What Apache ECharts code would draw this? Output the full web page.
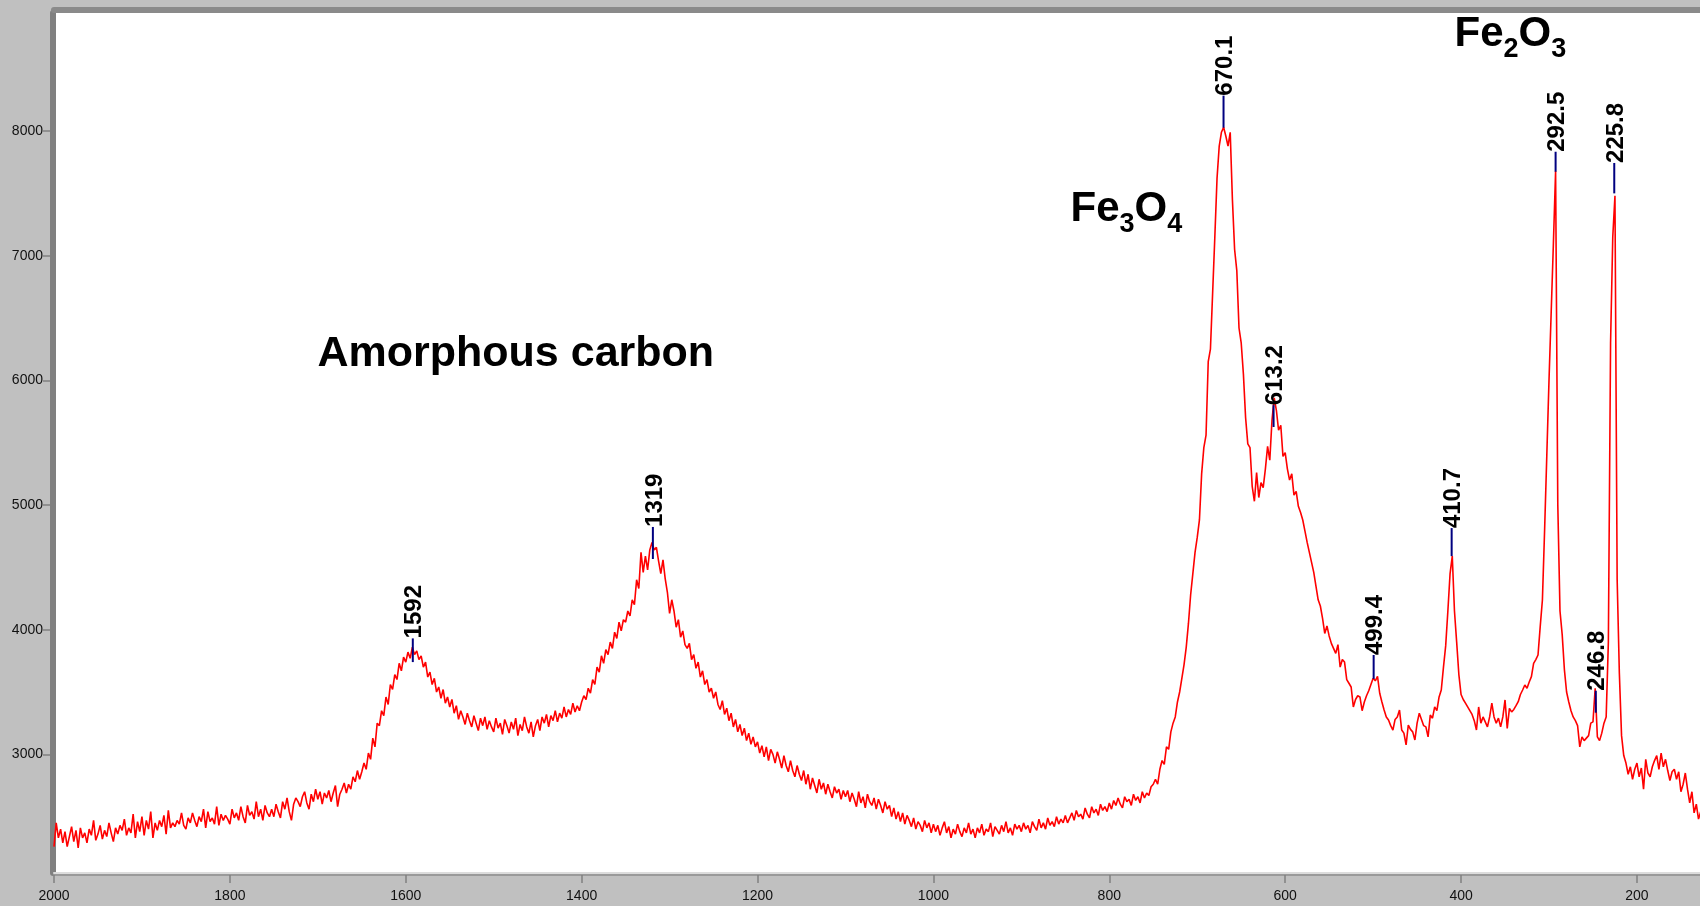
<!DOCTYPE html>
<html>
<head>
<meta charset="utf-8">
<script src="https://cdn.jsdelivr.net/npm/echarts@6/dist/echarts.min.js"></script>
<style>
html, body { margin: 0; padding: 0; background: #c0c0c0; }
#chart { width: 1700px; height: 906px; }
</style>
</head>
<body>
<div id="chart"></div>
<script>
// Raman shift sampling (cm-1): first point and spacing of the intensity array
const shiftStart = 2000;
const shiftStep = 2.5;

// Measured intensity (counts), one value per sample, 2000 -> 127.5 cm-1
const intensity = [
  // 2000 - 1952.5
  2260, 2450, 2330, 2400, 2290, 2380, 2260, 2340, 2420, 2300, 2390, 2250, 2410, 2330, 2370, 2290, 2400, 2350, 2470, 2310,
  // 1950 - 1902.5
  2360, 2430, 2320, 2390, 2340, 2450, 2370, 2300, 2410, 2360, 2430, 2390, 2480, 2350, 2410, 2370, 2520, 2330, 2460, 2380,
  // 1900 - 1852.5
  2500, 2350, 2470, 2400, 2540, 2330, 2450, 2390, 2470, 2420, 2510, 2360, 2550, 2410, 2450, 2420, 2470, 2440, 2530, 2430,
  // 1850 - 1802.5
  2400, 2490, 2450, 2530, 2470, 2420, 2500, 2460, 2560, 2410, 2540, 2460, 2490, 2440, 2580, 2430, 2520, 2470, 2510, 2480,
  // 1800 - 1752.5
  2440, 2560, 2490, 2530, 2470, 2580, 2500, 2450, 2590, 2510, 2540, 2480, 2620, 2500, 2560, 2470, 2590, 2530, 2500, 2560,
  // 1750 - 1702.5
  2500, 2600, 2540, 2490, 2620, 2560, 2650, 2540, 2470, 2600, 2650, 2620, 2580, 2660, 2700, 2610, 2560, 2680, 2620, 2720,
  // 1700 - 1652.5
  2640, 2700, 2600, 2690, 2650, 2710, 2620, 2690, 2750, 2580, 2680, 2720, 2770, 2690, 2760, 2720, 2820, 2780, 2870, 2800,
  // 1650 - 1602.5
  2860, 2930, 2880, 3010, 2960, 3130, 3060, 3250, 3230, 3350, 3310, 3460, 3400, 3560, 3520, 3640, 3600, 3730, 3670, 3780,
  // 1600 - 1552.5
  3740, 3820, 3770, 3860, 3800, 3830, 3760, 3790, 3700, 3740, 3620, 3660, 3560, 3610, 3500, 3540, 3450, 3520, 3410, 3460,
  // 1550 - 1502.5
  3380, 3440, 3330, 3390, 3280, 3350, 3300, 3240, 3330, 3270, 3220, 3310, 3250, 3190, 3290, 3230, 3300, 3200, 3270, 3220,
  // 1500 - 1452.5
  3180, 3290, 3210, 3250, 3160, 3280, 3230, 3170, 3260, 3200, 3290, 3150, 3240, 3190, 3300, 3220, 3170, 3260, 3140, 3230,
  // 1450 - 1402.5
  3280, 3190, 3300, 3250, 3320, 3220, 3310, 3270, 3350, 3260, 3330, 3290, 3380, 3300, 3360, 3320, 3410, 3340, 3390, 3350,
  // 1400 - 1352.5
  3420, 3470, 3440, 3530, 3490, 3600, 3560, 3700, 3660, 3790, 3730, 3840, 3800, 3900, 3850, 3980, 3930, 4060, 3990, 4080,
  // 1350 - 1302.5
  4060, 4150, 4110, 4240, 4200, 4400, 4330, 4620, 4460, 4590, 4480, 4640, 4700, 4640, 4660, 4550, 4450, 4560, 4410, 4300,
  // 1300 - 1252.5
  4130, 4240, 4150, 4020, 4080, 3940, 3990, 3880, 3850, 3890, 3760, 3800, 3690, 3740, 3620, 3670, 3560, 3600, 3500, 3530,
  // 1250 - 1202.5
  3450, 3500, 3400, 3360, 3430, 3320, 3370, 3270, 3330, 3220, 3280, 3180, 3240, 3150, 3210, 3110, 3170, 3080, 3140, 3060,
  // 1200 - 1152.5
  3100, 3010, 3070, 2980, 3060, 2950, 3040, 3000, 2930, 3020, 2960, 2890, 2990, 2910, 2860, 2950, 2870, 2820, 2910, 2840,
  // 1150 - 1102.5
  2790, 2870, 2760, 2840, 2720, 2810, 2750, 2690, 2800, 2720, 2770, 2680, 2760, 2700, 2650, 2740, 2690, 2720, 2640, 2710,
  // 1100 - 1052.5
  2660, 2710, 2620, 2690, 2640, 2580, 2700, 2610, 2660, 2570, 2680, 2620, 2590, 2650, 2560, 2640, 2590, 2530, 2620, 2560,
  // 1050 - 1002.5
  2590, 2500, 2570, 2480, 2540, 2460, 2530, 2440, 2510, 2470, 2420, 2490, 2400, 2460, 2430, 2380, 2470, 2410, 2450, 2370,
  // 1000 - 952.5
  2440, 2380, 2430, 2350, 2410, 2460, 2370, 2420, 2330, 2400, 2360, 2440, 2380, 2340, 2410, 2370, 2450, 2360, 2400, 2330,
  // 950 - 902.5
  2410, 2370, 2440, 2350, 2400, 2380, 2450, 2340, 2420, 2390, 2360, 2430, 2380, 2460, 2370, 2410, 2350, 2440, 2400, 2430,
  // 900 - 852.5
  2380, 2450, 2400, 2430, 2370, 2460, 2420, 2390, 2480, 2410, 2450, 2400, 2490, 2430, 2460, 2420, 2500, 2440, 2480, 2450,
  // 850 - 802.5
  2510, 2450, 2490, 2530, 2470, 2550, 2500, 2520, 2480, 2570, 2520, 2490, 2580, 2530, 2560, 2510, 2600, 2550, 2580, 2540,
  // 800 - 752.5
  2610, 2560, 2630, 2590, 2650, 2600, 2570, 2660, 2620, 2640, 2590, 2680, 2630, 2660, 2610, 2700, 2650, 2690, 2670, 2740,
  // 750 - 702.5
  2760, 2800, 2760, 2880, 2950, 2920, 3060, 3040, 3180, 3250, 3300, 3420, 3500, 3610, 3720, 3860, 4050, 4280, 4450, 4620,
  // 700 - 652.5
  4740, 4880, 5250, 5460, 5560, 6150, 6250, 6700, 7150, 7620, 7880, 7990, 8030, 7960, 7880, 7990, 7450, 7050, 6880, 6420,
  // 650 - 602.5
  6300, 6050, 5700, 5490, 5460, 5150, 5030, 5260, 5060, 5180, 5140, 5290, 5470, 5360, 5680, 5860, 5760, 5600, 5640, 5390,
  // 600 - 552.5
  5420, 5290, 5200, 5250, 5080, 5110, 4990, 4940, 4880, 4790, 4700, 4620, 4540, 4460, 4350, 4240, 4190, 4090, 3970, 4030,
  // 550 - 502.5
  3950, 3890, 3850, 3810, 3880, 3700, 3760, 3740, 3600, 3570, 3540, 3380, 3440, 3470, 3460, 3350, 3420, 3470, 3510, 3560,
  // 500 - 452.5
  3610, 3590, 3625, 3490, 3420, 3355, 3300, 3275, 3230, 3195, 3280, 3300, 3355, 3195, 3170, 3075, 3235, 3200, 3180, 3115,
  // 450 - 402.5
  3250, 3330, 3280, 3230, 3220, 3140, 3315, 3290, 3380, 3350, 3460, 3516, 3700, 3870, 4150, 4450, 4590, 4150, 3900, 3640,
  // 400 - 352.5
  3480, 3440, 3410, 3380, 3350, 3320, 3270, 3195, 3380, 3250, 3300, 3260, 3220, 3300, 3410, 3300, 3250, 3290, 3220, 3300,
  // 350 - 302.5
  3436, 3208, 3368, 3340, 3360, 3390, 3422, 3480, 3516, 3556, 3530, 3580, 3623, 3730, 3760, 3797, 4024, 4238, 4800, 5400,
  // 300 - 252.5
  6000, 6550, 7100, 7680, 5000, 4150, 3960, 3680, 3500, 3420, 3350, 3300, 3270, 3230, 3060, 3140, 3110, 3130, 3150, 3250,
  // 250 - 202.5
  3260, 3530, 3140, 3110, 3170, 3250, 3300, 3900, 6300, 7150, 7480, 4400, 3650, 3150, 2990, 2930, 2840, 2900, 2800, 2880,
  // 200 - 152.5
  2930, 2820, 2890, 2720, 2960, 2850, 2820, 2900, 2950, 2990, 2880, 3010, 2900, 2960, 2870, 2790, 2860, 2880, 2800, 2860,
  // 150 - 127.5
  2700, 2760, 2850, 2720, 2610, 2700, 2530, 2600, 2480, 2540
];

// Picked peaks: position (cm-1), marker foot and marker head (counts)
const peakShift = [1592, 1319, 670.1, 613.2, 499.4, 410.7, 292.5, 246.8, 225.8];
const peakBase  = [3740, 4567, 8027, 5626, 3605, 4590, 7674, 3334, 7500];
const peakTop   = [3930, 4824, 8284, 5801, 3797, 4815, 7834, 3510, 7744];

// Axis ticks
const shiftTicks = [2000, 1800, 1600, 1400, 1200, 1000, 800, 600, 400, 200];
const countTicks = [3000, 4000, 5000, 6000, 7000, 8000];

// Phase assignments: [text, subscript flag] pieces
const carbonLabel = 'Amorphous carbon';
const magnetiteLabel = [['Fe', false], ['3', true], ['O', false], ['4', true]];
const hematiteLabel = [['Fe', false], ['2', true], ['O', false], ['3', true]];

const FONT = '"Liberation Sans", Arial, sans-serif';

const spectrum = intensity.map((v, i) => [shiftStart - i * shiftStep, v]);
const peaks = peakShift.map((s, i) => [s, peakBase[i], peakTop[i]]);

// canvas 'middle' baseline sits ~0.3465 em above the alphabetic baseline
const MID = 0.3465;
const measureCtx = document.createElement('canvas').getContext('2d');
function textWidth(t, font) { measureCtx.font = font; return measureCtx.measureText(t).width; }

function formula(pieces, x0, base) {
  const out = [];
  let x = x0;
  pieces.forEach(([t, sub]) => {
    const size = sub ? 27 : 42;
    const font = 'bold ' + size + 'px ' + FONT;
    const baseline = sub ? base + 10 : base;
    out.push({
      type: 'text', x: x, y: baseline - MID * size, z: 10,
      style: { text: t, font: font, fill: '#000', textAlign: 'left', textVerticalAlign: 'middle' }
    });
    x += textWidth(t, font);
  });
  return out;
}

const plain = (v) => String(v);

const chart = echarts.init(document.getElementById('chart'), null, { renderer: 'canvas' });

const xScale = { type: 'value', inverse: true, min: 128.3, max: 2000 };

chart.setOption({
  animation: false,
  backgroundColor: '#c0c0c0',
  grid: { left: 54, right: 0, top: 13, bottom: 33, show: true, backgroundColor: '#ffffff', borderWidth: 0 },
  xAxis: [
    Object.assign({}, xScale, {
      position: 'bottom',
      axisLine: { show: true, lineStyle: { color: '#dcdcdc', width: 2 } },
      axisTick: { show: false }, axisLabel: { show: false }, splitLine: { show: false }
    }),
    Object.assign({}, xScale, {
      position: 'bottom', offset: 2,
      axisLine: { show: true, lineStyle: { color: '#9a9a9a', width: 2 } },
      axisTick: { show: true, length: 8, customValues: shiftTicks, lineStyle: { color: '#808080', width: 1.5 } },
      axisLabel: { show: true, customValues: shiftTicks, formatter: plain, margin: 14, fontSize: 14, fontFamily: FONT, color: '#111' },
      splitLine: { show: false }
    }),
    Object.assign({}, xScale, {
      position: 'top', offset: 3,
      axisLine: { show: true, lineStyle: { color: '#8a8a8a', width: 6 } },
      axisTick: { show: false }, axisLabel: { show: false }, splitLine: { show: false }
    })
  ],
  yAxis: {
    type: 'value', min: 2048, max: 8947, offset: 1,
    axisLine: { show: true, lineStyle: { color: '#808080', width: 6 } },
    axisTick: { show: true, length: 10, customValues: countTicks, lineStyle: { color: '#808080', width: 1.5 } },
    axisLabel: { show: true, customValues: countTicks, formatter: plain, margin: 10, fontSize: 14, fontFamily: FONT, color: '#111' },
    splitLine: { show: false }
  },
  series: [
    {
      type: 'line', xAxisIndex: 0, data: spectrum,
      symbol: 'none', showSymbol: false,
      lineStyle: { color: '#ff0000', width: 1.6 },
      z: 3
    },
    {
      type: 'custom', xAxisIndex: 0, data: peaks,
      encode: { x: 0, y: [1, 2] },
      z: 4,
      renderItem: function (params, api) {
        const foot = api.coord([api.value(0), api.value(1)]);
        const head = api.coord([api.value(0), api.value(2)]);
        return {
          type: 'group',
          children: [
            { type: 'line', shape: { x1: foot[0], y1: foot[1], x2: head[0], y2: head[1] },
              style: { stroke: '#000080', lineWidth: 2 } },
            { type: 'text', x: head[0], y: head[1], rotation: Math.PI / 2,
              style: { text: String(api.value(0)), x: 0, y: 2, font: 'bold 24px ' + FONT, fill: '#000',
                       textAlign: 'left', textVerticalAlign: 'middle', align: 'left', verticalAlign: 'middle' } }
          ]
        };
      }
    }
  ],
  graphic: [
    { type: 'text', x: 317.5, y: 369 - MID * 43, z: 10,
      style: { text: carbonLabel, font: 'bold 43px ' + FONT, fill: '#000', textAlign: 'left', textVerticalAlign: 'middle' } }
  ].concat(formula(magnetiteLabel, 1070.5, 224.3), formula(hematiteLabel, 1454.5, 48.7))
});
</script>
</body>
</html>
